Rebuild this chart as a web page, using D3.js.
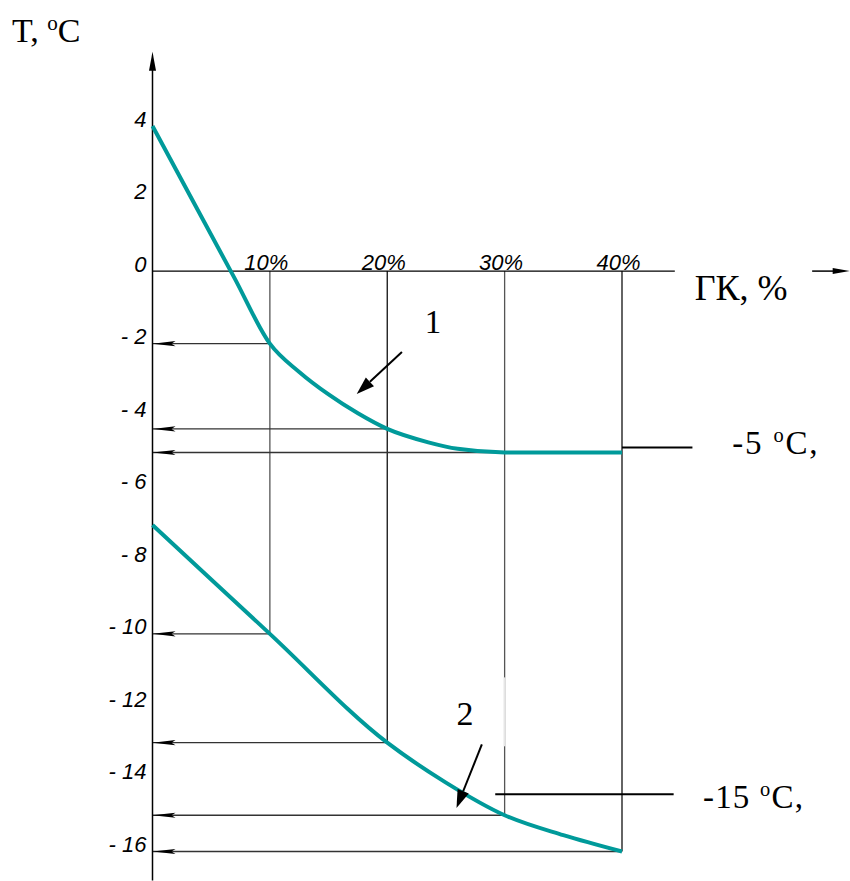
<!DOCTYPE html>
<html>
<head>
<meta charset="utf-8">
<title>T vs GK</title>
<script src="https://d3js.org/d3.v7.min.js"></script>
<style>
  body { margin: 0; background: #fff; }
</style>
</head>
<body>
<svg id="chart" width="850" height="881"></svg>
<script>
// curve 1 and curve 2 (GK, % -> T, degC)
var gk1 = [0, 7, 10, 12.5, 15, 17.5, 20, 23.5, 26, 30, 40];
var t1  = [4, -0.2, -2, -2.78, -3.4, -3.92, -4.35, -4.72, -4.9, -5, -5];
var gk2 = [0, 10, 20, 25, 30, 35, 40];
var t2  = [-7, -10, -13, -14.1, -15, -15.55, -16];

var tTicks  = [4, 2, 0, -2, -4, -6, -8, -10, -12, -14, -16];
var gkTicks = [10, 20, 30, 40];

// drop lines from the x axis down to curve 2
var dropGk = [10, 20, 30, 40];
var dropT  = [-10, -13, -15, -16];
// horizontal reading lines back to the T axis
var readGk = [10, 20, 40, 10, 20, 30, 40];
var readT  = [-2, -4.35, -5, -10, -13, -15, -16];

var teal = "#009a9a";
var svg = d3.select("#chart");

var x = d3.scaleLinear().domain([0, 40]).range([152.5, 622]);
var y = d3.scaleLinear().domain([4, -16]).range([126, 851.5]);

// grid / reading lines
svg.selectAll(".drop").data(dropGk).enter().append("line")
    .attr("class", "drop")
    .attr("x1", function(d) { return x(d); })
    .attr("x2", function(d) { return x(d); })
    .attr("y1", y(0))
    .attr("y2", function(d, i) { return y(dropT[i]); })
    .attr("stroke", function(d, i) { return i % 2 ? "#111" : "#555"; })
    .attr("stroke-width", 1.3);

// faded piece of the 30% line
svg.append("line")
    .attr("x1", x(30)).attr("x2", x(30))
    .attr("y1", y(-11.2)).attr("y2", y(-13.1))
    .attr("stroke", "#e6e6e6").attr("stroke-width", 2);

svg.selectAll(".read").data(readGk).enter().append("line")
    .attr("class", "read")
    .attr("x1", x(0))
    .attr("x2", function(d) { return x(d); })
    .attr("y1", function(d, i) { return y(readT[i]); })
    .attr("y2", function(d, i) { return y(readT[i]); })
    .attr("stroke", "#333")
    .attr("stroke-width", 1.3);

// little dart arrowheads on the T axis
svg.selectAll(".dart").data(readT).enter().append("path")
    .attr("class", "dart")
    .attr("d", function(d) {
        var x0 = x(0), y0 = y(d);
        return "M" + x0 + "," + y0 + " L" + (x0 + 23) + "," + (y0 - 2.6) +
               " L" + (x0 + 19) + "," + y0 + " L" + (x0 + 23) + "," + (y0 + 2.6) + " Z";
    })
    .attr("fill", "#000");

// axes
var tTop = 6.05, tBottom = -16.8;
svg.append("line")
    .attr("x1", x(0)).attr("x2", x(0))
    .attr("y1", y(tTop) + 10).attr("y2", y(tBottom))
    .attr("stroke", "#000").attr("stroke-width", 1.5);
svg.append("path")
    .attr("d", "M" + x(0) + "," + y(tTop) + " L" + (x(0) - 3.5) + "," + (y(tTop) + 19) +
               " L" + (x(0) + 3.5) + "," + (y(tTop) + 19) + " Z")
    .attr("fill", "#000");

svg.append("line")
    .attr("x1", x(0)).attr("x2", x(44.5))
    .attr("y1", y(0)).attr("y2", y(0))
    .attr("stroke", "#000").attr("stroke-width", 1.3);
svg.append("line")
    .attr("x1", x(56.2)).attr("x2", x(58))
    .attr("y1", y(0)).attr("y2", y(0))
    .attr("stroke", "#000").attr("stroke-width", 1.5);
svg.append("path")
    .attr("d", "M" + x(59.4) + "," + y(0) + " L" + (x(59.4) - 17) + "," + (y(0) - 3) +
               " L" + (x(59.4) - 17) + "," + (y(0) + 3) + " Z")
    .attr("fill", "#000");

function fmtT(d) { return d < 0 ? "- " + (-d) : "" + d; }

svg.append("g")
    .attr("transform", "translate(" + x(0) + ",0)")
    .call(d3.axisLeft(y).tickValues(tTicks).tickSize(0).tickPadding(6).tickFormat(fmtT))
    .call(function(g) { g.select(".domain").remove(); })
    .attr("font-family", "'Liberation Sans', Arial, sans-serif")
    .attr("font-size", 22)
    .attr("font-style", "italic")
    .selectAll("text").attr("dy", 0).attr("fill", "#000");

svg.append("g")
    .attr("transform", "translate(0," + y(0) + ")")
    .call(d3.axisTop(x).tickValues(gkTicks).tickSize(0).tickPadding(1).tickFormat(function(d) { return d + "%"; }))
    .call(function(g) { g.select(".domain").remove(); })
    .attr("font-family", "'Liberation Sans', Arial, sans-serif")
    .attr("font-size", 22)
    .attr("font-style", "italic")
    .selectAll("text").attr("dx", -4).attr("fill", "#000");

// curves
var line = d3.line()
    .x(function(d) { return x(d[0]); })
    .y(function(d) { return y(d[1]); })
    .curve(d3.curveMonotoneX);

svg.append("path")
    .datum(d3.zip(gk1, t1))
    .attr("d", line)
    .attr("fill", "none").attr("stroke", teal).attr("stroke-width", 4);
svg.append("path")
    .datum(d3.zip(gk2, t2))
    .attr("d", line)
    .attr("fill", "none").attr("stroke", teal).attr("stroke-width", 4);

// leaders to the right hand labels
svg.append("line")
    .attr("x1", x(40)).attr("x2", x(46))
    .attr("y1", y(-4.86)).attr("y2", y(-4.86))
    .attr("stroke", "#000").attr("stroke-width", 2);
svg.append("line")
    .attr("x1", x(29.2)).attr("x2", x(44.4))
    .attr("y1", y(-14.42)).attr("y2", y(-14.42))
    .attr("stroke", "#000").attr("stroke-width", 2);

// pointer arrows for curve numbers
function pointer(fx, ft, tx, tt) {
    var x1 = x(fx), y1 = y(ft), x2 = x(tx), y2 = y(tt);
    var a = Math.atan2(y2 - y1, x2 - x1), L = 18, W = 6;
    var bx = x2 - L * Math.cos(a), by = y2 - L * Math.sin(a);
    svg.append("line")
        .attr("x1", x1).attr("y1", y1).attr("x2", bx).attr("y2", by)
        .attr("stroke", "#000").attr("stroke-width", 2);
    svg.append("path")
        .attr("d", "M" + x2 + "," + y2 +
            " L" + (bx + W * Math.sin(a)) + "," + (by - W * Math.cos(a)) +
            " L" + (bx - W * Math.sin(a)) + "," + (by + W * Math.cos(a)) + " Z")
        .attr("fill", "#000");
}
pointer(21.25, -2.23, 17.4, -3.39);
pointer(28.06, -13.05, 25.9, -14.8);

// text labels
var serif = "'Liberation Serif', 'Times New Roman', serif";

function degLabel(px, py, size, pre, post, spacing) {
    var t = svg.append("text")
        .attr("x", px).attr("y", py)
        .attr("font-family", serif).attr("font-size", size).attr("fill", "#000")
        .attr("letter-spacing", spacing || 0);
    t.append("tspan").text(pre);
    t.append("tspan").attr("font-size", size * 0.62).attr("dy", -size * 0.36).text("o");
    t.append("tspan").attr("dy", size * 0.36).text(post);
    return t;
}

degLabel(12, 42, 34, "T, ", "C");
degLabel(x(49.4), y(-5.05), 33, "-5 ", "C,", 1.8);
degLabel(x(46.9), y(-14.8), 33, "-15 ", "C,", 1.2);

svg.append("text")
    .attr("x", x(46.2)).attr("y", y(-0.8))
    .attr("font-family", serif).attr("font-size", 36).attr("fill", "#000")
    .text("ГК, %");

svg.append("text")
    .attr("x", x(23.2)).attr("y", y(-1.72))
    .attr("font-family", serif).attr("font-size", 33).attr("fill", "#000")
    .text("1");
svg.append("text")
    .attr("x", x(25.9)).attr("y", y(-12.52))
    .attr("font-family", serif).attr("font-size", 34).attr("fill", "#000")
    .text("2");
</script>
</body>
</html>
